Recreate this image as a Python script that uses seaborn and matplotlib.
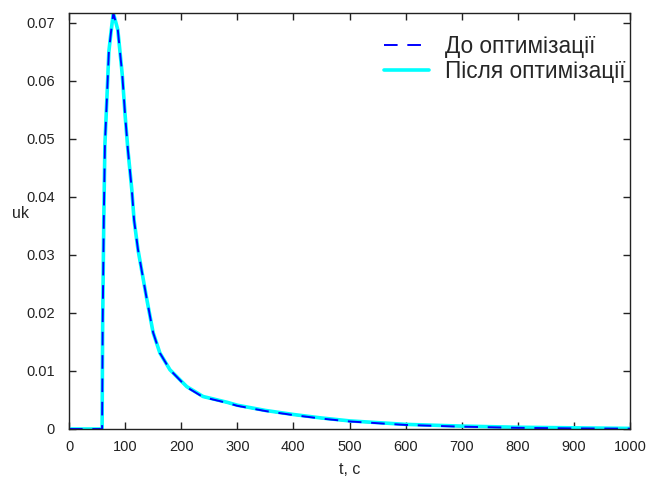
import matplotlib
matplotlib.use("Agg")
import matplotlib.pyplot as plt
import seaborn as sns
import pandas as pd

# time, s
t = [0, 59, 60, 62, 64, 68, 71, 75, 79, 87, 95, 100, 105, 112, 116, 123, 139,
     150, 162, 180, 210, 239, 282, 300, 350, 400, 450, 500, 600, 700, 800, 900, 1000]
# before optimization
uk_before = [0, 0, 0.018, 0.036, 0.049, 0.058, 0.065, 0.0685, 0.0717, 0.0688, 0.061,
             0.0541, 0.0481, 0.0412, 0.036, 0.0309, 0.0222, 0.0166, 0.0131, 0.0102,
             0.0072, 0.0055, 0.0045, 0.0040, 0.0031, 0.0024, 0.0018, 0.0013, 0.0007,
             0.0004, 0.0002, 0.0001, 0.00005]
# after optimization
uk_after = [0, 0, 0.018, 0.036, 0.049, 0.058, 0.065, 0.0685, 0.0717, 0.0688, 0.061,
            0.0541, 0.0481, 0.0412, 0.036, 0.0309, 0.0222, 0.0166, 0.0131, 0.0102,
            0.0073, 0.0056, 0.0046, 0.0041, 0.0032, 0.0025, 0.0019, 0.0014, 0.0008,
            0.0005, 0.0003, 0.0002, 0.0001]
labels = ["До оптимізації", "Після оптимізації"]
xticks = [0, 100, 200, 300, 400, 500, 600, 700, 800, 900, 1000]
yticks = [0, 0.01, 0.02, 0.03, 0.04, 0.05, 0.06, 0.07]
ytick_labels = ["0", "0.01", "0.02", "0.03", "0.04", "0.05", "0.06", "0.07"]

sns.set_style("ticks")
plt.rcParams["font.family"] = ["Liberation Sans", "DejaVu Sans"]

df_b = pd.DataFrame({"t": t, "uk": uk_before})
df_a = pd.DataFrame({"t": t, "uk": uk_after})

fig = plt.figure(figsize=(6.48, 4.79), dpi=100)
ax = fig.add_axes([69/648, 1 - 429/479, (630 - 69)/648, (429 - 13)/479])

sns.lineplot(data=df_b, x="t", y="uk", ax=ax, color="red", linewidth=1.0,
             sort=False, label="_nolegend_")
sns.lineplot(data=df_a, x="t", y="uk", ax=ax, color=(0, 1, 1), linewidth=2.6,
             sort=False, label=labels[1])
sns.lineplot(data=df_b, x="t", y="uk", ax=ax, color=(0, 0, 1), linewidth=1.4,
             sort=False, label=labels[0], dashes=False)
ax.lines[-1].set_linestyle((0, (7, 5)))

ax.set_xlim(0, 1000)
ax.set_ylim(0, 0.0717)
ax.set_xticks(xticks)
ax.set_xticklabels([str(v) for v in xticks])
ax.set_yticks(yticks)
ax.set_yticklabels(ytick_labels)
ax.tick_params(direction="in", length=5, width=1, top=True, right=True,
               labelsize=10.5, colors="#222222")
ax.tick_params(axis="y", pad=10)
ax.tick_params(axis="x", pad=8)
for s in ax.spines.values():
    s.set_linewidth(1.0)
    s.set_color("#222222")
ax.set_xlabel("t, c", fontsize=11.5, labelpad=6)
ax.set_ylabel("uk", fontsize=11.5, rotation=0)
ax.yaxis.set_label_coords(-0.087, 0.5)

h, l = ax.get_legend_handles_labels()
order = [l.index(labels[0]), l.index(labels[1])]
leg = ax.legend([h[i] for i in order], [l[i] for i in order], loc="upper right",
                bbox_to_anchor=(1.012, 0.975), frameon=False, fontsize=16.3,
                handlelength=2.0, handletextpad=0.7, labelspacing=0.08,
                borderaxespad=0.1)

fig.savefig("out.png", dpi=100)
